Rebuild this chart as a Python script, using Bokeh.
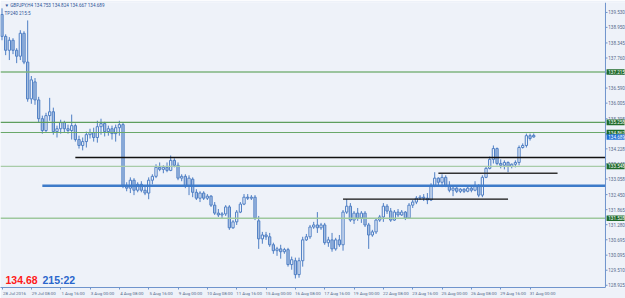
from bokeh.plotting import figure
from bokeh.models import (Range1d, LinearAxis, FixedTicker, Label, ColumnDataSource, Span)
from bokeh.core.properties import value
from bokeh.embed import file_html
from bokeh.resources import INLINE

# ---------------- data (GBPJPY H4) ----------------
opens = [139.45, 138.60, 138.06, 138.45, 138.06, 137.83, 138.72, 137.60, 136.17, 136.83,
         136.13, 135.40, 134.94, 135.52, 135.67, 134.90, 135.01, 135.25, 135.01, 134.94,
         135.13, 134.59, 134.36, 134.51, 134.78, 134.86, 134.67, 135.09, 135.21, 134.90,
         135.01, 134.82, 135.05, 135.17, 132.81, 132.70, 133.01, 132.62, 132.85, 132.62,
         132.51, 133.01, 133.16, 133.51, 133.43, 133.51, 133.39, 133.78, 133.59, 133.09,
         133.16, 132.78, 133.05, 132.54, 132.31, 132.51, 132.31, 132.39, 132.04, 131.73,
         131.66, 131.70, 131.97, 131.16, 131.39, 131.77, 132.08, 132.35, 132.31, 132.35,
         131.43, 130.73, 130.88, 130.81, 130.50, 130.27, 130.34, 130.23, 130.31, 129.73,
         129.88, 129.34, 129.88, 130.69, 130.81, 131.19, 131.27, 131.16, 131.27, 130.58,
         130.69, 130.34, 130.69, 130.50, 131.77, 132.00, 131.46, 131.73, 131.54, 131.73,
         131.27, 130.88, 131.00, 131.46, 131.58, 132.00, 131.81, 131.46, 131.77, 131.66,
         131.77, 131.54, 132.04, 132.16, 132.31, 132.35, 132.31, 132.24, 132.81, 133.09,
         132.93, 133.12, 132.81, 132.62, 132.70, 132.58, 132.66, 132.58, 132.70, 132.62,
         132.81, 132.43, 133.12, 133.47, 133.82, 134.24, 133.66, 133.59, 133.70, 133.55,
         133.63, 133.70, 134.28, 134.36, 134.74, 134.753]
highs = [139.69, 138.68, 138.57, 138.53, 138.14, 138.84, 138.80, 139.22, 137.06, 136.98,
         136.25, 135.52, 135.63, 136.21, 135.83, 135.13, 135.36, 135.32, 135.17, 135.56,
         135.21, 134.74, 134.67, 134.90, 135.01, 135.05, 135.32, 135.40, 135.28, 135.13,
         135.13, 135.17, 135.32, 135.25, 132.93, 133.12, 133.09, 132.93, 132.97, 132.81,
         133.12, 133.24, 133.63, 133.70, 133.59, 133.70, 133.97, 133.86, 133.70, 133.24,
         133.24, 133.20, 133.12, 132.66, 132.58, 132.58, 132.47, 132.43, 132.16, 131.89,
         131.77, 132.04, 132.04, 131.46, 131.85, 132.16, 132.47, 132.47, 132.43, 132.43,
         131.62, 131.00, 131.00, 130.96, 130.58, 130.42, 130.50, 130.38, 130.38, 130.04,
         130.00, 130.00, 130.81, 130.92, 131.27, 131.39, 131.77, 131.35, 131.35, 130.81,
         130.96, 130.77, 130.88, 131.85, 132.27, 132.12, 131.81, 131.93, 131.81, 131.81,
         131.35, 131.08, 131.54, 131.66, 132.12, 132.08, 131.93, 131.85, 131.89, 131.85,
         131.81, 132.12, 132.24, 132.39, 132.43, 132.47, 132.51, 132.89, 133.32, 133.12,
         133.24, 133.20, 132.97, 132.78, 132.74, 132.70, 132.70, 132.78, 132.78, 132.97,
         132.85, 133.20, 133.55, 133.93, 134.36, 134.28, 133.82, 133.78, 133.74, 133.66,
         133.78, 134.36, 134.44, 134.82, 134.82, 134.824]
lows = [138.45, 137.87, 137.68, 137.91, 137.56, 137.68, 137.52, 136.06, 135.98, 135.94,
        135.25, 134.82, 134.86, 135.32, 134.78, 134.67, 134.82, 134.86, 134.82, 134.59,
        134.51, 134.24, 134.17, 134.28, 134.63, 134.51, 134.47, 134.78, 134.71, 134.74,
        134.59, 134.51, 134.74, 132.70, 132.58, 132.51, 132.43, 132.54, 132.54, 132.43,
        132.27, 132.85, 133.09, 133.36, 133.28, 133.32, 133.36, 133.51, 133.01, 132.97,
        132.70, 132.43, 132.35, 132.24, 132.16, 132.24, 132.24, 131.97, 131.66, 131.58,
        131.54, 131.62, 131.08, 131.12, 131.27, 131.73, 132.04, 132.24, 132.24, 131.46,
        130.34, 130.54, 130.69, 130.42, 130.15, 130.07, 129.96, 130.15, 129.65, 129.53,
        129.19, 129.22, 129.65, 130.65, 130.73, 131.12, 130.96, 131.08, 130.50, 130.42,
        130.23, 130.27, 130.42, 130.27, 131.70, 131.39, 131.31, 131.43, 131.35, 131.19,
        130.34, 130.81, 130.92, 131.39, 131.39, 131.70, 131.39, 131.43, 131.58, 131.62,
        131.46, 131.50, 131.93, 132.08, 132.24, 132.20, 132.08, 132.20, 132.74, 132.81,
        132.74, 132.74, 132.54, 132.39, 132.51, 132.51, 132.51, 132.54, 132.54, 132.58,
        132.35, 132.35, 133.09, 133.43, 133.66, 133.59, 133.47, 133.43, 133.32, 133.47,
        133.51, 133.59, 134.24, 134.28, 134.55, 134.667]
closes = [138.60, 138.06, 138.45, 138.06, 137.83, 138.72, 137.60, 136.17, 136.91, 136.13,
          135.40, 134.94, 135.52, 135.67, 134.90, 135.01, 135.25, 135.01, 134.94, 135.13,
          134.59, 134.36, 134.51, 134.78, 134.86, 134.67, 135.09, 135.21, 134.90, 135.01,
          134.82, 135.05, 135.17, 132.81, 132.70, 133.01, 132.62, 132.85, 132.62, 132.51,
          133.01, 133.16, 133.51, 133.43, 133.51, 133.39, 133.78, 133.59, 133.09, 133.16,
          132.78, 133.09, 132.54, 132.31, 132.51, 132.31, 132.39, 132.04, 131.73, 131.66,
          131.70, 131.97, 131.16, 131.39, 131.77, 132.08, 132.35, 132.31, 132.35, 131.54,
          130.73, 130.88, 130.81, 130.50, 130.27, 130.34, 130.23, 130.31, 129.73, 129.92,
          129.34, 129.88, 130.69, 130.81, 131.19, 131.27, 131.16, 131.27, 130.58, 130.69,
          130.34, 130.69, 130.50, 131.77, 132.00, 131.46, 131.73, 131.54, 131.73, 131.27,
          130.88, 131.00, 131.46, 131.58, 132.00, 131.81, 131.46, 131.77, 131.66, 131.77,
          131.54, 132.04, 132.16, 132.31, 132.35, 132.31, 132.24, 132.81, 133.09, 132.93,
          133.12, 132.81, 132.62, 132.70, 132.58, 132.66, 132.58, 132.70, 132.62, 132.81,
          132.43, 133.12, 133.47, 133.82, 134.24, 133.66, 133.59, 133.70, 133.55, 133.63,
          133.70, 134.28, 134.36, 134.74, 134.63, 134.689]

time_labels = ["28 Jul 2016", "29 Jul 08:00", "1 Aug 16:00", "3 Aug 00:00", "4 Aug 08:00",
               "5 Aug 16:00", "9 Aug 00:00", "10 Aug 08:00", "11 Aug 16:00", "15 Aug 00:00",
               "16 Aug 08:00", "17 Aug 16:00", "19 Aug 00:00", "22 Aug 08:00", "23 Aug 16:00",
               "25 Aug 00:00", "26 Aug 08:00", "29 Aug 16:00", "31 Aug 00:00"]
time_label_bars = [0, 8, 16, 24, 32, 40, 48, 56, 64, 72, 80, 88, 96, 104, 112, 120, 128, 136, 144]

price_ticks = [128.925, 129.510, 130.095, 130.695, 131.280, 131.865, 132.450, 133.058, 133.643,
               134.228, 134.813, 135.398, 136.005, 136.590, 137.175, 137.760, 138.345, 138.950,
               139.530]

level_prices = [137.215, 135.258, 134.862, 133.548, 131.528]
trend_start = [20, 11, 119, 93]
trend_end = [164.6, 164.6, 151.5, 138]
trend_price = [133.895, 132.795, 133.278, 132.274]

symbol = "GBPJPY,H4"
bar_ohlc = "134.753 134.824 134.667 134.689"
bid = 134.689
bid_short = "134.68"
timer = "215:22"

# ---------------- style ----------------
BG = "#eef2f9"
OUT = "#4f7fc4"
BEAR = "#a9c0e2"
AXIS = "#6f94cc"
TXT = "#55698a"
level_colors = ["#7fb57f", "#5e9e5e", "#6aa86a", "#a8cca8", "#9ec89e"]
level_widths = [1.6, 1.3, 1.1, 1.4, 1.4]
trend_colors = ["#111111", "#3d7bc9", "#333333", "#111111"]
trend_widths = [1.4, 2.6, 1.6, 1.3]

SCALE_X = 164.57      # bar-index position of the price scale line (right edge of the chart)

n = len(closes)
src = ColumnDataSource(dict(
    x=list(range(n)), h=highs, l=lows,
    top=[max(o, c) for o, c in zip(opens, closes)],
    bot=[min(o, c) for o, c in zip(opens, closes)],
    fill=[BEAR if c < o else BG for o, c in zip(opens, closes)],
))

p = figure(width=625, height=298, output_backend="svg", toolbar_location=None,
           x_range=Range1d(-0.41, 170.03), y_range=Range1d(128.839, 139.917),
           x_axis_location=None, y_axis_location=None,
           min_border_left=0, min_border_right=0, min_border_top=2, min_border_bottom=0,
           background_fill_color=BG, border_fill_color=BG, outline_line_color=None)
p.grid.visible = False

# candles
p.segment(x0="x", y0="h", x1="x", y1="l", source=src, line_color=OUT, line_width=1)
p.vbar(x="x", width=0.62, top="top", bottom="bot", source=src,
       fill_color="fill", line_color=OUT, line_width=1)

# horizontal levels (up to the price scale)
for lv, col, w in zip(level_prices, level_colors, level_widths):
    p.segment(x0=[-0.41], x1=[SCALE_X], y0=[lv], y1=[lv], line_color=col, line_width=w)

# trend / support lines
for x0, x1, y, col, w in zip(trend_start, trend_end, trend_price, trend_colors, trend_widths):
    p.segment(x0=[x0], x1=[x1], y0=[y], y1=[y], line_color=col, line_width=w)

# ---- price scale on the right (line, ticks, labels, level boxes) ----
p.add_layout(Span(location=SCALE_X, dimension="height", line_color=AXIS, line_width=1))
nt = len(price_ticks)
p.segment(x0=[SCALE_X] * nt, x1=[SCALE_X + 0.55] * nt, y0=price_ticks, y1=price_ticks,
          line_color=AXIS, line_width=1)
p.text(x=[SCALE_X + 0.75] * nt, y=price_ticks, text=[f"{t:.3f}" for t in price_ticks],
       text_font=value("Roboto"), text_font_size="4.6px", text_color=TXT,
       text_align="left", text_baseline="middle")

nl = len(level_prices)
p.rect(x=[SCALE_X + 2.75] * nl, y=level_prices, width=18, height=5.6,
       width_units="screen", height_units="screen", fill_color="#1f6b2b", line_color=None)
p.text(x=[SCALE_X + 0.75] * nl, y=level_prices, text=[f"{v:.3f}" for v in level_prices],
       text_font=value("Roboto"), text_font_size="4.6px", text_color="white",
       text_align="left", text_baseline="middle")
p.rect(x=[SCALE_X + 2.75], y=[bid], width=18, height=5.6,
       width_units="screen", height_units="screen", fill_color="#1f6fd6", line_color=None)
p.text(x=[SCALE_X + 0.75], y=[bid], text=[f"{bid:.3f}"],
       text_font=value("Roboto"), text_font_size="4.6px", text_color="white",
       text_align="left", text_baseline="middle")

# ---- bottom time axis: labels start at the tick (MT4 style) ----
label_pos = [b + 3.4 for b in time_label_bars]
xax = LinearAxis(ticker=FixedTicker(ticks=label_pos, minor_ticks=time_label_bars),
                 bounds=(-0.41, SCALE_X))
xax.major_label_overrides = {lp: t for lp, t in zip(label_pos, time_labels)}
xax.axis_line_color = AXIS
xax.major_tick_line_color = None
xax.major_tick_out = 2
xax.major_tick_in = 0
xax.minor_tick_line_color = AXIS
xax.minor_tick_out = 2
xax.minor_tick_in = 0
xax.major_label_standoff = 1
xax.major_label_text_font = "Roboto"
xax.major_label_text_font_size = "4.4px"
xax.major_label_text_color = TXT
p.add_layout(xax, "below")

# header texts
p.add_layout(Label(x=4, y=282, x_units="screen", y_units="screen",
                   text=f"\u25bc {symbol}  {bar_ohlc}",
                   text_font="Roboto", text_font_size="4.6px", text_color="#2f5597",
                   text_baseline="middle"))
p.add_layout(Label(x=4, y=274, x_units="screen", y_units="screen", text="TP240  215:5",
                   text_font="Roboto", text_font_size="4.6px", text_color="#2f5597",
                   text_baseline="middle"))
# bottom-left bid and timer
p.add_layout(Label(x=5, y=8, x_units="screen", y_units="screen", text=bid_short,
                   text_font="Liberation Sans", text_font_size="10.5px", text_font_style="bold",
                   text_color="#ff1a1a", text_baseline="middle"))
p.add_layout(Label(x=42, y=8, x_units="screen", y_units="screen", text=timer,
                   text_font="Liberation Sans", text_font_size="10.5px", text_font_style="bold",
                   text_color="#2a66cc", text_baseline="middle"))

open("out.html", "w").write(file_html(p, INLINE))
